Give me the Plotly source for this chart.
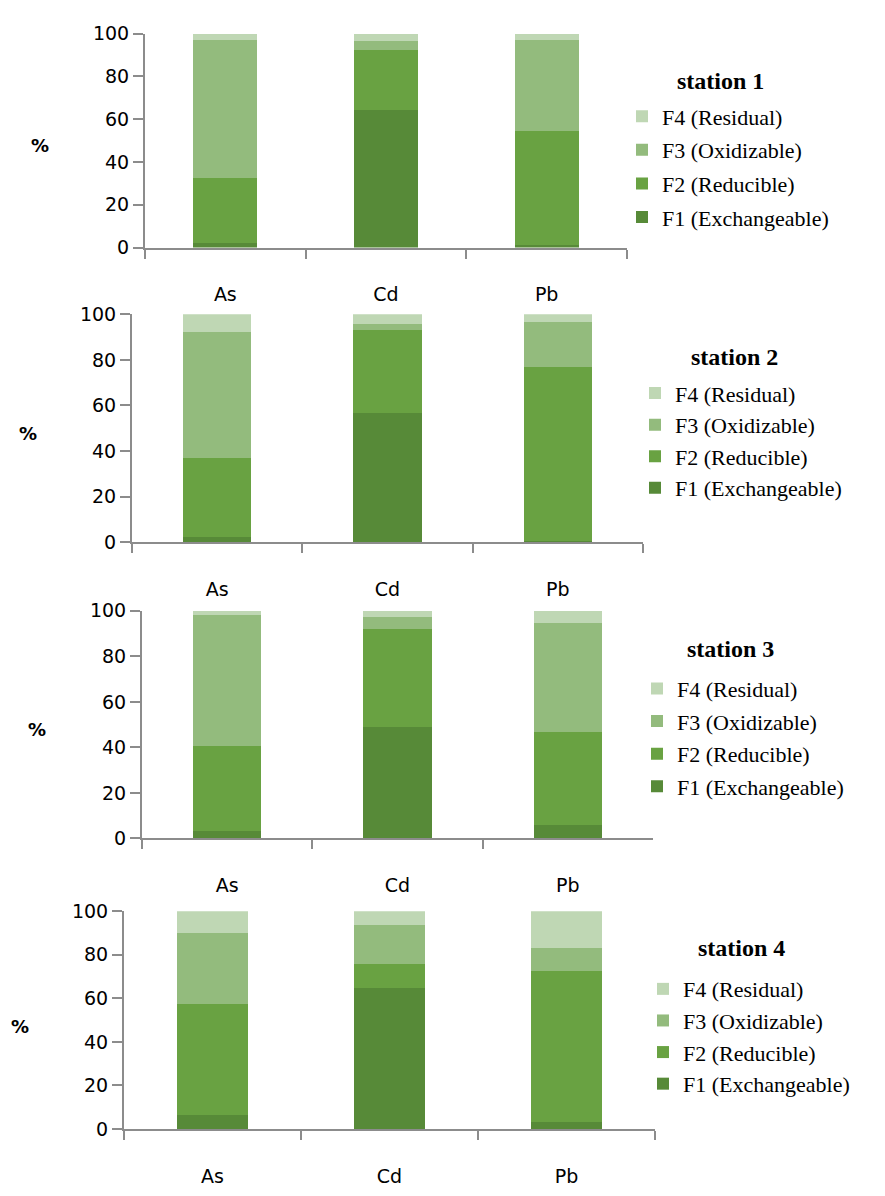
import plotly.graph_objects as go

W, H = 885, 1196

metals = ["As", "Cd", "Pb"]
stations = ["station 1", "station 2", "station 3", "station 4"]
fraction_names = ["F1 (Exchangeable)", "F2 (Reducible)", "F3 (Oxidizable)", "F4 (Residual)"]

# values per station, order As, Cd, Pb
F1 = [[2.1, 64.3, 1.2], [2.2, 56.8, 0.6], [3.4, 49.1, 6.0], [6.3, 64.6, 3.1]]
F2 = [[30.4, 27.9, 53.3], [34.8, 36.3, 76.1], [37.1, 43.1, 40.6], [51.1, 11.2, 69.5]]
F3 = [[64.7, 4.1, 42.7], [55.2, 2.6, 19.8], [57.8, 5.2, 48.2], [32.7, 17.9, 10.4]]
F4 = [[2.8, 3.7, 2.8], [7.8, 4.3, 3.5], [1.7, 2.6, 5.2], [9.9, 6.3, 17.0]]

colors = ["#578A38", "#69A242", "#93BB7D", "#BFD7B4"]

# panel geometry in pixels: (x0, x1, ytop, ybottom)
panels = [(145, 627, 23, 241), (132, 643, 309, 541), (142, 653, 611, 843), (124, 655, 917, 1139)]
legend_pos = [(622, 86), (635, 368), (637, 669), (643, 975)]
legend_gap = [2, 0, 1, 0]
title_pos = [(720, 71), (734, 352), (730, 650), (741, 955)]
pct_pos = [(40, 137), (28, 430), (37, 732), (20, 1035)]

fig = go.Figure()
AX = "#8C8C8C"
tickfont = dict(family="DejaVu Sans", size=19, color="#000000")

for i in range(4):
    sfx = "" if i == 0 else str(i + 1)
    lg = "legend" if i == 0 else "legend" + str(i + 1)
    for k, vals in enumerate([F1[i], F2[i], F3[i], F4[i]]):
        fig.add_trace(go.Bar(
            x=metals, y=vals, name=fraction_names[k],
            marker=dict(color=colors[k], line=dict(width=0)),
            xaxis="x" + sfx, yaxis="y" + sfx, legend=lg,
            legendgroup=f"s{i}f{k}", legendrank=100 - k, showlegend=True,
        ))
    x0, x1, yt, yb = panels[i]
    fig.layout["xaxis" + sfx] = dict(
        domain=[x0 / W, x1 / W], anchor="y" + sfx,
        showline=True, linecolor=AX, linewidth=2,
        ticks="outside", tickson="boundaries", ticklen=9, tickwidth=1.5, tickcolor=AX,
        tickfont=tickfont, showgrid=False, ticklabelstandoff=29,
        range=[-0.5, 2.5], fixedrange=True,
    )
    fig.layout["yaxis" + sfx] = dict(
        domain=[1 - yb / H, 1 - yt / H], anchor="x" + sfx,
        range=[0, 100], dtick=20, tick0=0,
        showline=True, linecolor=AX, linewidth=2,
        ticks="outside", ticklen=10, tickwidth=1.5, tickcolor=AX,
        tickfont=tickfont, showgrid=False, zeroline=False,
    )
    lx, ly = legend_pos[i]
    fig.layout[lg] = dict(
        x=lx / W, y=1 - ly / H, xanchor="left", yanchor="top",
        xref="paper", yref="paper",
        traceorder="grouped", tracegroupgap=legend_gap[i],
        font=dict(family="Liberation Serif", size=22, color="#000000"),
        bgcolor="rgba(0,0,0,0)", borderwidth=0,
    )
    tx, ty = title_pos[i]
    fig.add_annotation(
        x=tx / W, y=1 - ty / H, xref="paper", yref="paper",
        text="<b>" + stations[i] + "</b>", showarrow=False,
        font=dict(family="Liberation Serif", size=24, color="#000000"),
        xanchor="center", yanchor="middle",
    )
    px, py = pct_pos[i]
    fig.add_annotation(
        x=px / W, y=1 - py / H, xref="paper", yref="paper",
        text="<b>%</b>", showarrow=False,
        font=dict(family="DejaVu Sans", size=18, color="#000000"),
        xanchor="center", yanchor="middle",
    )

fig.update_layout(
    width=W, height=H, margin=dict(l=0, r=0, t=0, b=0),
    barmode="stack", bargap=0.6,
    paper_bgcolor="#FFFFFF", plot_bgcolor="#FFFFFF",
)

fig.write_html(
    "out.html",
    config={"displayModeBar": False},
    post_script="document.body.style.margin='0';document.body.style.overflow='hidden';",
)
